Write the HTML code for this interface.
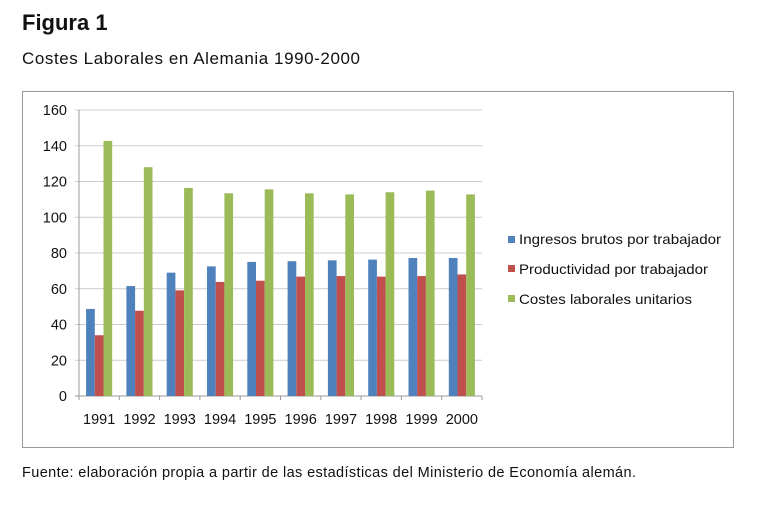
<!DOCTYPE html>
<html><head><meta charset="utf-8"><style>
body{margin:0;background:#fff;width:773px;height:503px;overflow:hidden;font-family:"Liberation Sans",sans-serif}
</style></head><body>
<svg width="773" height="503" xmlns="http://www.w3.org/2000/svg">
<text x="22" y="30" font-size="22" font-weight="bold" fill="#111">Figura 1</text>
<text x="22" y="64" font-size="17" fill="#111" textLength="338" lengthAdjust="spacing">Costes Laborales en Alemania 1990-2000</text>
<rect x="22.5" y="91.5" width="711" height="356" fill="#fff" stroke="#999" stroke-width="1"/>
<g id="grid"></g><g id="bars"></g><g id="labels"></g>
<g>
<rect x="508" y="236" width="7" height="7" fill="#4f81bd"/>
<text x="519" y="244" font-size="14" fill="#111" textLength="202" lengthAdjust="spacingAndGlyphs">Ingresos brutos por trabajador</text>
<rect x="508" y="265" width="7" height="7" fill="#c0504d"/>
<text x="519" y="274" font-size="14" fill="#111" textLength="189" lengthAdjust="spacingAndGlyphs">Productividad por trabajador</text>
<rect x="508" y="295" width="7" height="7" fill="#9bbb59"/>
<text x="519" y="304" font-size="14" fill="#111" textLength="173" lengthAdjust="spacingAndGlyphs">Costes laborales unitarios</text>
</g>
<text x="22" y="477" font-size="14.5" fill="#111" textLength="614" lengthAdjust="spacing">Fuente: elaboración propia a partir de las estadísticas del Ministerio de Economía alemán.</text>
</svg>
<script>
const categories=["1991","1992","1993","1994","1995","1996","1997","1998","1999","2000"];
const ingresos=[48.7,61.5,69,72.5,75,75.4,75.9,76.3,77.2,77.2];
const productividad=[34,47.7,59.1,63.8,64.5,66.8,67.1,66.8,67.1,68];
const costes=[142.7,128,116.4,113.4,115.6,113.4,112.8,114,114.9,112.8];
const yTicks=[0,20,40,60,80,100,120,140,160];
const NS="http://www.w3.org/2000/svg";
const X0=79,X1=482,Y0=396,Y1=110,YMAX=160;
const y=v=>Y0-(v/YMAX)*(Y0-Y1);
const cw=(X1-X0)/categories.length;
const x=i=>X0+i*cw;
function mk(t,a,p){const e=document.createElementNS(NS,t);for(const k in a)e.setAttribute(k,a[k]);p.appendChild(e);return e;}
const grid=document.getElementById('grid'),bars=document.getElementById('bars'),labels=document.getElementById('labels');
yTicks.forEach(v=>{
 const l=mk('line',{x1:X0-4,x2:X1,y1:y(v),y2:y(v),stroke:v===0?'#999':'#ccc','stroke-width':1},grid);
 
 
 const t=mk('text',{x:67,y:y(v)+5,'font-size':14.5,'text-anchor':'end',fill:'#111'},labels);
 t.textContent=v;
 
 
});
const ax=mk('line',{x1:X0,x2:X0,y1:Y1,y2:Y0+4,stroke:'#999'},grid);


const series=[[ingresos,'#4f81bd','ingresos'],[productividad,'#c0504d','productividad'],[costes,'#9bbb59','costes']];
const bw=8.7;
categories.forEach((c,i)=>{
 const tk=mk('line',{x1:x(i),x2:x(i),y1:Y0,y2:Y0+4,stroke:'#999'},grid);
 
 
 const g0=x(i)+cw/2-1.5*bw;
 series.forEach((s,j)=>{
  const v=s[0][i];
  const r=mk('rect',{x:g0+j*bw,y:y(v),width:bw,height:Y0-y(v),fill:s[1]},bars);
  
  
 });
 const t=mk('text',{x:x(i)+cw/2,y:424,'font-size':14.5,'text-anchor':'middle',fill:'#111'},labels);
 t.textContent=c;
 
 
});
const lt=mk('line',{x1:X1,x2:X1,y1:Y0,y2:Y0+4,stroke:'#999'},grid);


</script>
</body></html>
